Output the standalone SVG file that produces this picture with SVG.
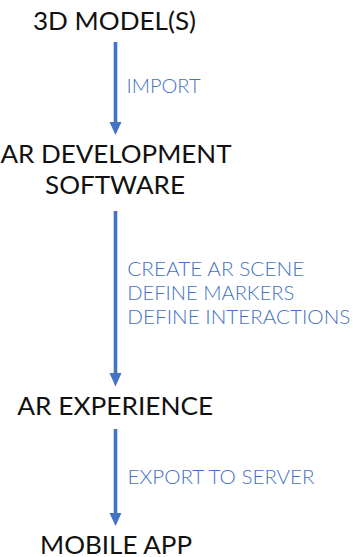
<svg xmlns="http://www.w3.org/2000/svg" width="353" height="557" viewBox="0 0 353 557">
<style>
.node{font-family:Lato,"Noto Sans","Liberation Sans",sans-serif;font-size:25px;font-weight:400;fill:#111;text-anchor:middle}
.lbl{font-family:Lato,"Noto Sans","Liberation Sans",sans-serif;font-size:19.5px;font-weight:300;fill:#4472c4}
.ln{stroke:#4472c4;stroke-width:3.6;fill:none}
.hd{fill:#4472c4}
</style>
<rect width="353" height="557" fill="#fff"/>
<g id="n1"><text class="node" x="114.5" y="30" textLength="163" lengthAdjust="spacingAndGlyphs">3D MODEL(S)</text></g>
<g id="n2"><text class="node" x="116" y="163" textLength="231" lengthAdjust="spacingAndGlyphs">AR DEVELOPMENT</text><text class="node" x="115" y="194" textLength="140" lengthAdjust="spacingAndGlyphs">SOFTWARE</text></g>
<g id="n3"><text class="node" x="115.3" y="415" textLength="196" lengthAdjust="spacingAndGlyphs">AR EXPERIENCE</text></g>
<g id="n4"><text class="node" x="116" y="553.5" textLength="152" lengthAdjust="spacingAndGlyphs">MOBILE APP</text></g>
<g id="connectors">
<line class="ln" x1="115.5" y1="42" x2="115.5" y2="123"/>
<polygon class="hd" points="109.5,122 121.5,122 115.5,135"/>
<text class="lbl" x="126.5" y="93" textLength="74" lengthAdjust="spacingAndGlyphs">IMPORT</text>
<line class="ln" x1="115.5" y1="211" x2="115.5" y2="374"/>
<polygon class="hd" points="109.5,373 121.5,373 115.5,386.5"/>
<text class="lbl" x="127.3" y="276" textLength="177" lengthAdjust="spacingAndGlyphs">CREATE AR SCENE</text>
<text class="lbl" x="127.3" y="300" textLength="167" lengthAdjust="spacingAndGlyphs">DEFINE MARKERS</text>
<text class="lbl" x="127.3" y="324" textLength="223" lengthAdjust="spacingAndGlyphs">DEFINE INTERACTIONS</text>
<line class="ln" x1="115.5" y1="429" x2="115.5" y2="514"/>
<polygon class="hd" points="109.5,513 121.5,513 115.5,526"/>
<text class="lbl" x="127.5" y="484" textLength="187" lengthAdjust="spacingAndGlyphs">EXPORT TO SERVER</text>
</g>
</svg>
